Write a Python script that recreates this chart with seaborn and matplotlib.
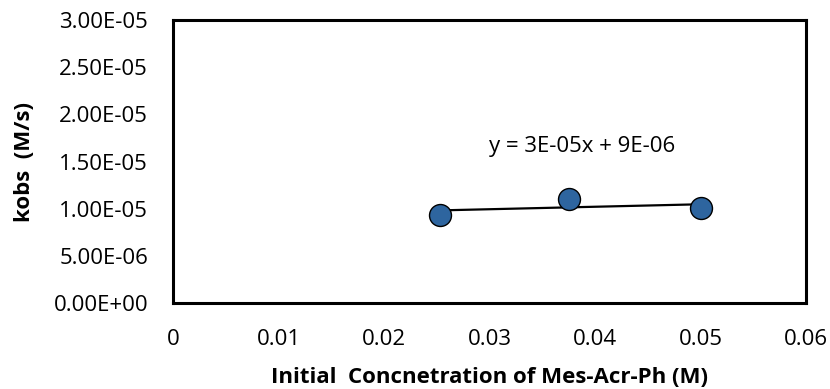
import numpy as np
import pandas as pd
import matplotlib
matplotlib.use("Agg")
import matplotlib.pyplot as plt
import seaborn as sns

# Initial catalyst concentration (M) and observed rate constants (M/s)
conc = [0.0253, 0.0375, 0.0500]
kobs = [9.38e-6, 1.100e-5, 1.004e-5]

x_ticks = [0, 0.01, 0.02, 0.03, 0.04, 0.05, 0.06]
x_tick_labels = ["0", "0.01", "0.02", "0.03", "0.04", "0.05", "0.06"]
y_ticks = [0, 5e-6, 1e-5, 1.5e-5, 2e-5, 2.5e-5, 3e-5]

x_title = "Initial  Concnetration of Mes-Acr-Ph (M)"
y_title = "kobs  (M/s)"

df = pd.DataFrame({"conc": conc, "kobs": kobs})

# Linear least-squares trend line over the measured range
slope, intercept = np.polyfit(df["conc"], df["kobs"], 1)
fit = pd.DataFrame({"conc": [min(conc), max(conc)]})
fit["kobs"] = slope * fit["conc"] + intercept

sns.set_theme(style="white")
plt.rcParams["font.family"] = ["Open Sans", "DejaVu Sans"]
plt.rcParams["text.color"] = "black"
plt.rcParams["axes.labelcolor"] = "black"

fs = 16

fig = plt.figure(figsize=(8.3, 3.89), dpi=100)
ax = fig.add_axes([173 / 830, 1 - 303 / 389, 633 / 830, 283 / 389])

sns.lineplot(data=fit, x="conc", y="kobs", ax=ax, color="black",
             linewidth=1.6, zorder=2)
sns.scatterplot(data=df, x="conc", y="kobs", ax=ax, s=250,
                color="#2E659F", edgecolor="black", linewidth=1.0, zorder=3)

ax.set_xlim(0, 0.06)
ax.set_ylim(0, 3e-5)
ax.set_xticks(x_ticks)
ax.set_xticklabels(x_tick_labels)
ax.set_yticks(y_ticks)
ax.set_yticklabels([f"{v:.2E}" for v in y_ticks])

ax.tick_params(axis="both", direction="in", length=5, width=1,
               color="black", labelsize=fs, labelcolor="black")
ax.tick_params(axis="y", pad=18)
ax.tick_params(axis="x", pad=19)

for sp in ax.spines.values():
    sp.set_visible(True)
    sp.set_color("black")
    sp.set_linewidth(2.2)

ax.set_xlabel(x_title, fontsize=fs, fontweight="bold", va="top", color="black")
ax.xaxis.set_label_coords(0.5, -0.225)
ax.set_ylabel(y_title, fontsize=fs, fontweight="bold", va="center", color="black")
ax.yaxis.set_label_coords(-0.235, 0.5)

ax.text(0.0388, 1.60e-5, f"y = {slope:.0E}x + {intercept:.0E}",
        ha="center", va="baseline", fontsize=fs, color="black")

fig.savefig("out.png", dpi=100)
